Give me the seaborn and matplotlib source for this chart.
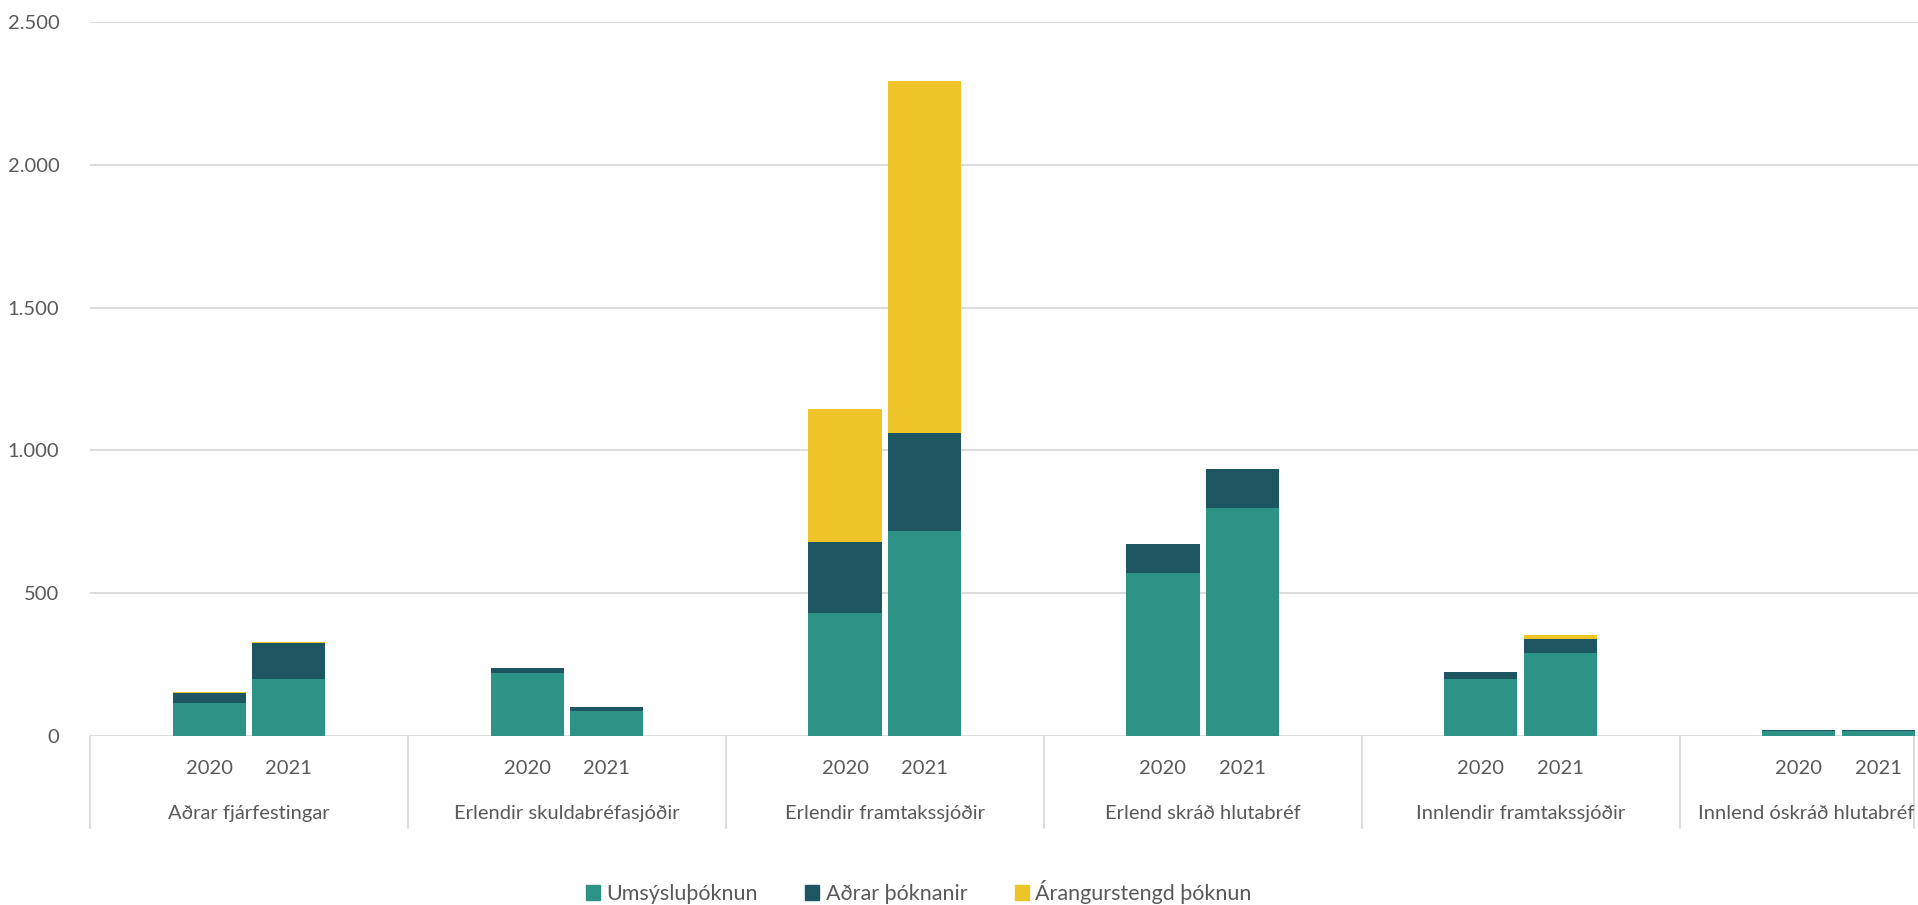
import pandas as pd
import matplotlib.pyplot as plt
import seaborn as sns
from matplotlib.patches import Patch
from matplotlib.ticker import FuncFormatter
import matplotlib.transforms as mtransforms

# Chart data
groups = ['Aðrar fjárfestingar', 'Erlendir skuldabréfasjóðir', 'Erlendir framtakssjóðir',
          'Erlend skráð hlutabréf', 'Innlendir framtakssjóðir', 'Innlend óskráð hlutabréf']
years = ['2020', '2021']
umsysluthoknun = [115, 199, 220, 87, 432, 718, 570, 799, 199, 291, 18, 18]
adrar_thoknanir = [36, 126, 18, 14, 248, 342, 101, 137, 26, 48, 3, 3]
arangurstengd = [4, 4, 0, 0, 466, 1233, 0, 0, 0, 14, 0, 0]
series_names = ['Umsýsluþóknun', 'Aðrar þóknanir', 'Árangurstengd þóknun']
colors = ['#2E9387', '#1D5560', '#EDC529']

# Long table; each group takes 4 slots, bars sit in slots 1 and 2
rows = []
for gi, g in enumerate(groups):
    for yi, yr in enumerate(years):
        k = gi * 2 + yi
        rows.append({'group': g, 'year': yr, 'pos': gi * 4 + 1 + yi,
                     'lvl1': umsysluthoknun[k],
                     'lvl2': umsysluthoknun[k] + adrar_thoknanir[k],
                     'lvl3': umsysluthoknun[k] + adrar_thoknanir[k] + arangurstengd[k]})
df = pd.DataFrame(rows)

sns.set_theme(style='white')
plt.rcParams['font.family'] = ['Lato', 'DejaVu Sans']
txt_color = '#595959'
grid_color = '#D9D9D9'

fig = plt.figure(figsize=(19.18, 9.05), dpi=100)
ax = fig.add_axes([90 / 1918, 1 - 736 / 905, 1 - 90 / 1918, (736 - 22) / 905])

# stacked look: draw cumulative totals from the top series down
for col, c in zip(['lvl3', 'lvl2', 'lvl1'], colors[::-1]):
    sns.barplot(data=df, x='pos', y=col, native_scale=True, width=0.92,
                color=c, saturation=1, errorbar=None, ax=ax, zorder=3,
                linewidth=0, edgecolor='none')

ax.set_xlim(-0.5, 22.5)
ax.set_ylim(0, 2500)
ax.set_yticks([0, 500, 1000, 1500, 2000, 2500])
ax.yaxis.set_major_formatter(FuncFormatter(lambda v, p: f'{int(v):,}'.replace(',', '.')))
ax.tick_params(axis='y', length=0, pad=22, labelsize=14.5, labelcolor=txt_color)
ax.set_xticks([])
ax.set_xlabel('')
ax.set_ylabel('')
for s in ax.spines.values():
    s.set_visible(False)
ax.grid(axis='y', color=grid_color, linewidth=1.3, zorder=0)
ax.set_axisbelow(True)

# two-level category axis
trans = mtransforms.blended_transform_factory(ax.transData, ax.transAxes)
h = ax.get_position().height * 905
y_year = -(768 - 736) / h
y_group = -(813 - 736) / h
y_sep = -(828 - 736) / h
for gi in range(len(groups) + 1):
    xs = gi * 4 - 0.5
    if xs > 22.5:
        xs = 22.45
    ax.plot([xs, xs], [0, y_sep], transform=trans, color=grid_color,
            linewidth=1.3, clip_on=False)
for _, r in df.iterrows():
    ax.text(r['pos'], y_year, r['year'], transform=trans, ha='center', va='center',
            fontsize=14.5, color=txt_color)
for gi, g in enumerate(groups):
    xc = gi * 4 + 1.5
    ha = 'center'
    if gi == len(groups) - 1:
        xc, ha = 22.45, 'right'
    ax.text(xc, y_group, g, transform=trans, ha=ha, va='center',
            fontsize=14.5, color=txt_color)

handles = [Patch(color=c, label=n) for c, n in zip(colors, series_names)]
fig.legend(handles=handles, loc='center', bbox_to_anchor=(0.479, 1 - 892 / 905),
           ncol=3, frameon=False, fontsize=15.5, handlelength=0.65, handleheight=0.65,
           handletextpad=0.3, columnspacing=2.2, labelcolor=txt_color)

fig.savefig('out.png', dpi=100)
